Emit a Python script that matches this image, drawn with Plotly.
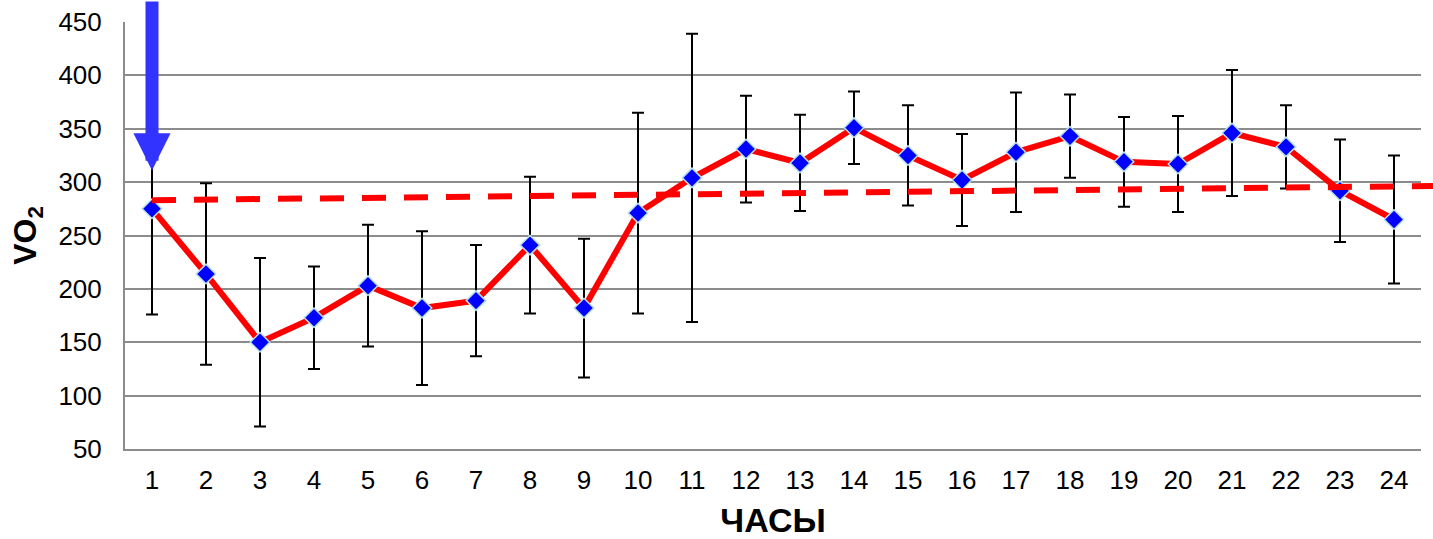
import plotly.graph_objects as go

# ---- data ----
hours = list(range(1, 25))
hour_labels = [str(h) for h in hours]
vo2_mean = [275, 214, 150, 173, 203, 182, 189, 241, 182, 271, 304, 331,
            318, 351, 325, 302, 328, 343, 319, 317, 346, 333, 292, 265]
vo2_err = [99, 85, 79, 48, 57, 72, 52, 64, 65, 94, 135, 50,
           45, 34, 47, 43, 56, 39, 42, 45, 59, 39, 48, 60]
trend_start = 283   # trend value at hour 1
trend_end = 296     # trend value at hour 24
arrow_hour = 1
arrow_tip = 311
y_ticks = [50, 100, 150, 200, 250, 300, 350, 400, 450]

# ---- layout geometry ----
W, H = 1433, 539
ML, MR, MT, MB = 125, 0, 22, 90
plot_w = W - ML - MR
main_right_px = 1421
d1 = (main_right_px - ML) / plot_w
xr = [0.5, 24.5]
units_per_px = (xr[1] - xr[0]) / (d1 * plot_w)
x2r = [xr[0], xr[0] + plot_w * units_per_px]

slope = (trend_end - trend_start) / (hours[-1] - hours[0])
trend_x = [hours[0], x2r[1]]
trend_y = [trend_start + slope * (x - hours[0]) for x in trend_x]

FONT = "Arial, Liberation Sans, sans-serif"
GRID = "#8c8c8c"

fig = go.Figure()

fig.add_trace(go.Scatter(
    x=hours, y=vo2_mean,
    mode="lines+markers",
    line=dict(color="#ff0000", width=6),
    marker=dict(symbol="diamond", size=15, color="#0000ff",
                line=dict(color="#b8e0e8", width=1.5)),
    error_y=dict(type="data", array=vo2_err, visible=True,
                 color="black", thickness=2, width=6),
    showlegend=False, hoverinfo="skip",
))

fig.add_trace(go.Scatter(
    x=trend_x, y=trend_y, xaxis="x2", yaxis="y2",
    mode="lines",
    line=dict(color="#ff0000", width=6, dash="24px,18px"),
    showlegend=False, hoverinfo="skip",
))

fig.add_annotation(
    x=arrow_hour, y=arrow_tip, xref="x", yref="y",
    text="", showarrow=True, ax=0, ay=-185,
    arrowhead=2, arrowsize=0.57, arrowwidth=13, arrowcolor="#3333ff",
)

fig.update_layout(
    width=W, height=H,
    margin=dict(l=ML, r=MR, t=MT, b=MB, pad=0, autoexpand=False),
    paper_bgcolor="white", plot_bgcolor="rgba(0,0,0,0)",
    font=dict(family=FONT, color="black", size=26),
    xaxis=dict(
        domain=[0, d1], range=xr, anchor="y", automargin=False,
        tickmode="array", tickvals=hours, ticktext=hour_labels,
        showgrid=False, zeroline=False,
        showline=True, linecolor=GRID, linewidth=2,
        ticks="", ticklabelstandoff=7,
        tickfont=dict(size=26, family=FONT),
        title=dict(text="<b>ЧАСЫ</b>", font=dict(size=34, family=FONT), standoff=16),
    ),
    yaxis=dict(
        domain=[0, 1], range=[50, 450], anchor="x", automargin=False,
        tickmode="array", tickvals=y_ticks,
        showgrid=True, gridcolor=GRID, gridwidth=2,
        zeroline=False,
        showline=True, linecolor=GRID, linewidth=2,
        ticks="", ticklabelstandoff=16,
        tickfont=dict(size=26, family=FONT),
        title=dict(text="<b>VO<sub>2</sub></b>", font=dict(size=32, family=FONT), standoff=12),
    ),
    xaxis2=dict(domain=[0, 1], range=x2r, visible=False, anchor="y2",
                showgrid=False, zeroline=False),
    yaxis2=dict(domain=[0, 1], range=[50, 450], visible=False, anchor="x2",
                showgrid=False, zeroline=False),
)

fig.write_html("out.html", config={"displayModeBar": False},
               post_script="document.body.style.margin='0px';")
